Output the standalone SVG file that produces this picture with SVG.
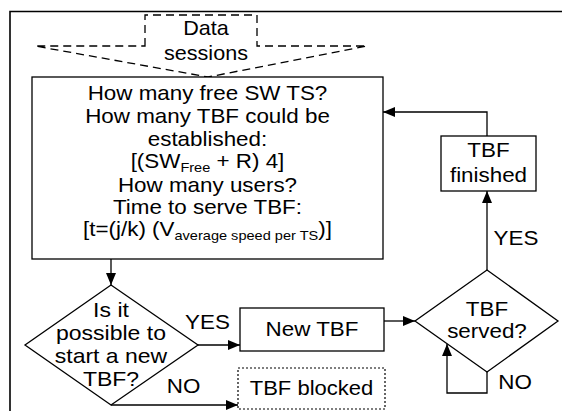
<svg xmlns="http://www.w3.org/2000/svg" width="562" height="411" viewBox="0 0 562 411">
<style>
text{font-family:"Liberation Sans",Arial,sans-serif;font-size:20px;fill:#000;text-anchor:middle}
.sub{font-size:13px}
.s{fill:#fff;stroke:#000;stroke-width:1.3}
.c{fill:none;stroke:#000;stroke-width:1.3}
</style>
<defs>
<marker id="ah" markerWidth="12" markerHeight="10" refX="12" refY="5" orient="auto" markerUnits="userSpaceOnUse">
<path d="M0,0 L12,5 L0,10 Z" fill="#000"/>
</marker>
</defs>
<rect width="562" height="411" fill="#fff"/>
<path d="M10,411 V11.5 H562" fill="none" stroke="#000" stroke-width="1.6"/>
<g id="data-sessions">
<path d="M145,46 V15 H257 V46 H367 L208,77 L35,46 Z" fill="none" stroke="#000" stroke-width="1.3" stroke-dasharray="8,5"/>
<g transform="translate(206 0) scale(1.08 1) translate(-206 0)">
<text x="206" y="35">Data</text>
<text x="206" y="60">sessions</text>
</g>
</g>
<g id="connectors">
<path class="c" d="M111,259 V285" marker-end="url(#ah)"/>
<path class="c" d="M198,345 H240" marker-end="url(#ah)"/>
<path class="c" d="M111,405 H238" marker-end="url(#ah)"/>
<path class="c" d="M384,321 H415" marker-end="url(#ah)"/>
<path class="c" d="M487,270 V191" marker-end="url(#ah)"/>
<path class="c" d="M487,136 V112 H383" marker-end="url(#ah)"/>
<path class="c" d="M487,372 V393 H447 V344" marker-end="url(#ah)"/>
<g transform="translate(0 0)">
<text x="207.5" y="329" transform="translate(207.5 0) scale(1.12 1) translate(-207.5 0)">YES</text>
<text x="183.5" y="393" transform="translate(183.5 0) scale(1.12 1) translate(-183.5 0)">NO</text>
<text x="516" y="245" transform="translate(516 0) scale(1.12 1) translate(-516 0)">YES</text>
<text x="515" y="389" transform="translate(515 0) scale(1.12 1) translate(-515 0)">NO</text>
</g>
</g>
<g id="main-box">
<rect class="s" x="32" y="77" width="351" height="182"/>
<g transform="translate(207.5 0) scale(1.12 1) translate(-207.5 0)">
<text x="207.5" y="100">How many free SW TS?</text>
<text x="207.5" y="123">How many TBF could be</text>
<text x="207.5" y="146">established:</text>
<text x="207.5" y="168">[(SW<tspan class="sub" dy="4">Free</tspan><tspan dy="-4"> + R) 4]</tspan></text>
<text x="207.5" y="192">How many users?</text>
<text x="207.5" y="214">Time to serve TBF:</text>
<text x="207.5" y="236">[t=(j/k) (V<tspan class="sub" dy="4">average speed per TS</tspan><tspan dy="-4">)]</tspan></text>
</g>
</g>
<g id="decision-start">
<path class="s" d="M111,285 L198,345 L111,405 L25,345 Z"/>
<g transform="translate(111 0) scale(1.15 1) translate(-111 0)">
<text x="111" y="317">Is it</text>
<text x="111" y="340">possible to</text>
<text x="111" y="363">start a new</text>
<text x="111" y="386">TBF?</text>
</g>
</g>
<g id="new-tbf">
<rect class="s" x="240" y="308" width="144" height="43"/>
<text x="312" y="336" transform="translate(312 0) scale(1.12 1) translate(-312 0)">New TBF</text>
</g>
<g id="tbf-blocked">
<rect x="238" y="368" width="147" height="41" fill="#fff" stroke="#000" stroke-width="1.2" stroke-dasharray="2,2"/>
<text x="311.5" y="395" transform="translate(311.5 0) scale(1.1 1) translate(-311.5 0)">TBF blocked</text>
</g>
<g id="tbf-served">
<path class="s" d="M487,270 L558,321 L487,372 L415,321 Z"/>
<g transform="translate(487 0) scale(1.12 1) translate(-487 0)">
<text x="487" y="316">TBF</text>
<text x="487" y="338">served?</text>
</g>
</g>
<g id="tbf-finished">
<rect class="s" x="441" y="136" width="95" height="55"/>
<g transform="translate(488.5 0) scale(1.12 1) translate(-488.5 0)">
<text x="488.5" y="157">TBF</text>
<text x="488.5" y="182">finished</text>
</g>
</g>
</svg>
